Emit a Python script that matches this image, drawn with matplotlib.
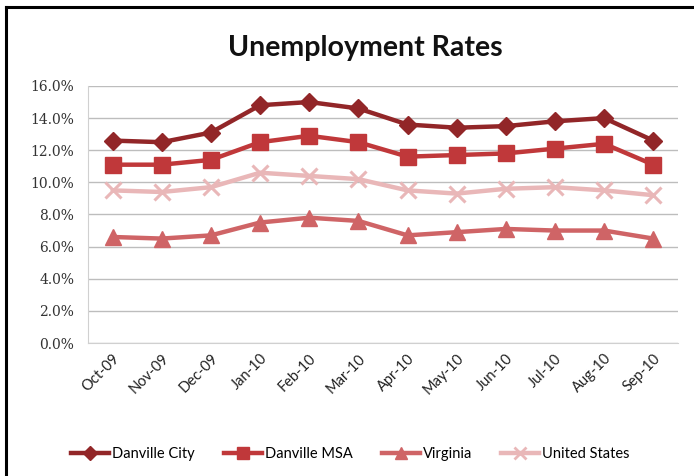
import matplotlib
matplotlib.use("Agg")
import matplotlib.pyplot as plt
from matplotlib.lines import Line2D
from matplotlib.ticker import FuncFormatter, MultipleLocator

months = ["Oct-09", "Nov-09", "Dec-09", "Jan-10", "Feb-10", "Mar-10",
          "Apr-10", "May-10", "Jun-10", "Jul-10", "Aug-10", "Sep-10"]
danville_city = [12.6, 12.5, 13.1, 14.8, 15.0, 14.6, 13.6, 13.4, 13.5, 13.8, 14.0, 12.6]
danville_msa = [11.1, 11.1, 11.4, 12.5, 12.9, 12.5, 11.6, 11.7, 11.8, 12.1, 12.4, 11.1]
virginia = [6.6, 6.5, 6.7, 7.5, 7.8, 7.6, 6.7, 6.9, 7.1, 7.0, 7.0, 6.5]
united_states = [9.5, 9.4, 9.7, 10.6, 10.4, 10.2, 9.5, 9.3, 9.6, 9.7, 9.5, 9.2]

series = [
    ("Danville City", danville_city, "#922628", "D", 9),
    ("Danville MSA", danville_msa, "#C0383A", "s", 11),
    ("Virginia", virginia, "#CF6466", "^", 11),
    ("United States", united_states, "#E9B7B8", "x", 11),
]

fig = plt.figure(figsize=(6.94, 4.76), dpi=100)
ax = fig.add_axes([0.1268, 0.2794, 0.850, 0.540])

x = list(range(len(months)))
for name, vals, col, mk, ms in series:
    if mk == "x":
        ax.plot(x, vals, color=col, lw=3.2, marker=mk, markersize=ms,
                markeredgewidth=2.2, markeredgecolor=col, label=name,
                solid_capstyle="round", zorder=3)
    else:
        ax.plot(x, vals, color=col, lw=3.2, marker=mk, markersize=ms,
                markeredgecolor=col, markerfacecolor=col, label=name,
                solid_capstyle="round", zorder=3)

ax.set_xlim(-0.5, len(months) - 0.5)
ax.set_ylim(0, 16)
ax.yaxis.set_major_locator(MultipleLocator(2))
ax.yaxis.set_major_formatter(FuncFormatter(lambda v, p: f"{v:.1f}%"))
ax.grid(axis="y", color="#BDBDBD", lw=1.0)
ax.set_axisbelow(True)
for s in ["top", "right"]:
    ax.spines[s].set_visible(False)
ax.spines["left"].set_color("#D0D0D0")
ax.spines["bottom"].set_color("#D0D0D0")
ax.tick_params(axis="both", length=0, pad=6)
ax.set_xticks(x)
ax.set_xticklabels(months, rotation=45, ha="right", rotation_mode="anchor",
                   fontsize=10.5, family="Lato", color="#222222")
for lab in ax.get_yticklabels():
    lab.set_fontsize(10)
    lab.set_family("DejaVu Serif")
    lab.set_color("#333333")
ax.tick_params(axis="y", pad=10)

fig.text(0.527, 0.9, "Unemployment Rates", ha="center", va="center",
         fontsize=20.5, fontweight="bold", family="Lato", color="#111111")

handles = [Line2D([0], [0], color=c, lw=3.2, marker=m, markersize=ms * 0.8,
                  markeredgecolor=c, markeredgewidth=2 if m == "x" else 1)
           for _, _, c, m, ms in series]
fig.legend(handles, [s[0] for s in series], loc="center",
           bbox_to_anchor=(0.505, 0.047), ncol=4, frameon=False,
           prop={"family": "Lato", "size": 10.5}, handlelength=2.6,
           handletextpad=0.2, columnspacing=2.0)

fig.add_artist(Line2D([0.009, 0.009], [0, 0.985], color="black", lw=2.2,
                      transform=fig.transFigure))
fig.add_artist(Line2D([0.009, 1.0], [0.985, 0.985], color="black", lw=2.2,
                      transform=fig.transFigure))

fig.savefig("out.png", dpi=100)
